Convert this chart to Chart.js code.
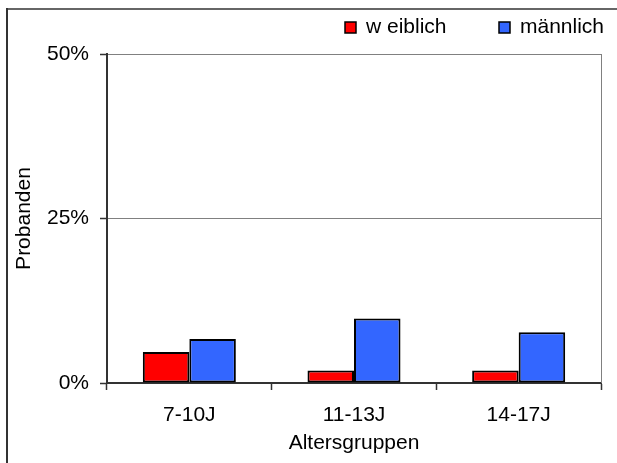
<!DOCTYPE html>
<html>
<head>
<meta charset="utf-8">
<script src="https://cdn.jsdelivr.net/npm/chart.js@4/dist/chart.umd.min.js"></script>
<style>
  html, body { margin: 0; padding: 0; background: #fff; }
  canvas { display: block; }
</style>
</head>
<body>
<canvas id="myChart" width="617" height="463"></canvas>
<script>
const groups = ['7-10J', '11-13J', '14-17J'];
const weiblich = [4.7, 1.9, 1.9];
const maennlich = [6.7, 9.8, 7.7];
const yTicks = [0, 25, 50];

const FONT = "'Liberation Sans', Arial, sans-serif";
const SIZE = 21;

// frame around the whole figure, right edge of plot box, and the legend
const decorations = {
  id: 'decorations',
  beforeDatasetsDraw(chart) {
    const ctx = chart.ctx;
    const a = chart.chartArea;
    ctx.save();
    ctx.strokeStyle = '#808080';
    ctx.lineWidth = 1;
    ctx.beginPath();
    ctx.moveTo(a.right + 0.5, a.top);
    ctx.lineTo(a.right + 0.5, a.bottom);
    ctx.stroke();
    ctx.restore();
  },
  afterDraw(chart) {
    const ctx = chart.ctx;
    ctx.save();
    ctx.lineWidth = 2;
    ctx.strokeStyle = '#666';
    ctx.beginPath();
    ctx.moveTo(7, 9);
    ctx.lineTo(617, 9);
    ctx.stroke();
    ctx.strokeStyle = '#333';
    ctx.beginPath();
    ctx.moveTo(7, 8);
    ctx.lineTo(7, 463);
    ctx.stroke();

    const xs = [345, 499];
    ctx.font = SIZE + 'px ' + FONT;
    ctx.textBaseline = 'middle';
    ctx.textAlign = 'left';
    chart.data.datasets.forEach(function (ds, i) {
      ctx.fillStyle = ds.backgroundColor;
      ctx.fillRect(xs[i], 22, 11, 11);
      ctx.strokeStyle = '#000';
      ctx.lineWidth = 1.5;
      ctx.strokeRect(xs[i], 22, 11, 11);
      ctx.fillStyle = '#000';
      ctx.fillText(ds.label, xs[i] + 21, 27);
    });
    ctx.restore();
  }
};

const data = {
  labels: groups,
  datasets: [
    {
      label: 'w eiblich',
      backgroundColor: '#FF0000',
      borderColor: '#000',
      borderWidth: 2,
      borderSkipped: false,
      data: weiblich
    },
    {
      label: 'männlich',
      backgroundColor: '#3366FF',
      borderColor: '#000',
      borderWidth: 2,
      borderSkipped: false,
      data: maennlich
    }
  ]
};

const config = {
  type: 'bar',
  data: data,
  plugins: [decorations],
  options: {
    responsive: false,
    animation: false,
    devicePixelRatio: 1,
    layout: { padding: { top: 54, right: 16, bottom: 0, left: 0 } },
    categoryPercentage: 0.565,
    barPercentage: 1,
    plugins: {
      legend: { display: false },
      tooltip: { enabled: false }
    },
    scales: {
      x: {
        afterFit: function (scale) { scale.height = 80; },
        grid: {
          drawOnChartArea: false,
          tickLength: 7,
          tickColor: '#333',
          tickWidth: 1.5
        },
        border: { color: '#333', width: 2 },
        ticks: {
          color: '#000',
          padding: 13,
          font: { family: FONT, size: SIZE }
        },
        title: {
          display: true,
          text: 'Altersgruppen',
          color: '#000',
          padding: { top: 0, bottom: 7 },
          font: { family: FONT, size: SIZE }
        }
      },
      y: {
        min: 0,
        max: 50,
        afterFit: function (scale) { scale.width = 107; },
        afterBuildTicks: function (scale) {
          scale.ticks = yTicks.map(function (v) { return { value: v }; });
        },
        grid: {
          color: '#808080',
          lineWidth: 1,
          tickLength: 7,
          tickColor: '#333',
          tickWidth: 1.5
        },
        border: { color: '#333', width: 2 },
        ticks: {
          color: '#000',
          padding: 11,
          font: { family: FONT, size: SIZE }
          ,
          callback: function (v) { return v + '%'; }
        },
        title: {
          display: true,
          text: 'Probanden',
          color: '#000',
          padding: { top: 12, bottom: 0 },
          font: { family: FONT, size: SIZE }
        }
      }
    }
  }
};

const ctx = document.getElementById('myChart');
new Chart(ctx, config);
</script>
</body>
</html>
